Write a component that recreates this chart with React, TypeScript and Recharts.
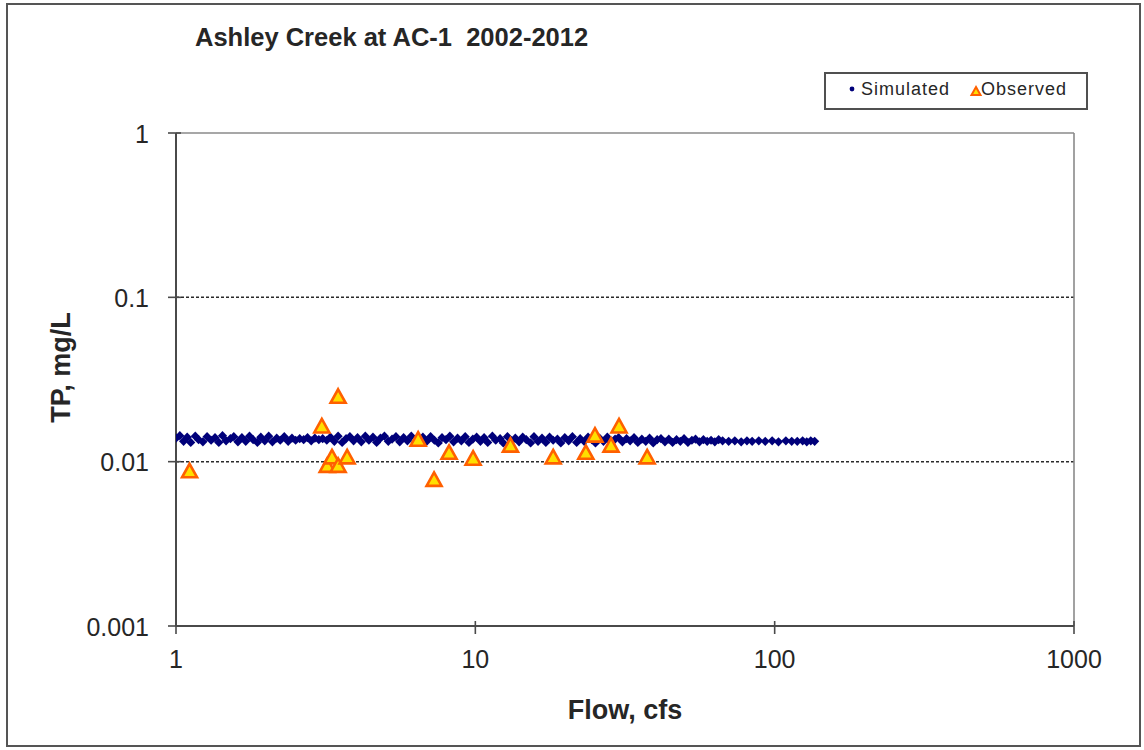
import React from 'react';
import { ScatterChart, Scatter, XAxis, YAxis, ReferenceLine, Legend, Label } from 'recharts';

const FONT = '"Liberation Sans", Arial, Helvetica, sans-serif';
const TEXT = '#262626';
const AXIS = '#4a4a4a';
const NAVY = '#00007a';
const TRI_FILL = '#ffdf00';
const TRI_STROKE = '#ff6000';

const TITLE = 'Ashley Creek at AC-1  2002-2012';
const X_TITLE = 'Flow, cfs';
const Y_TITLE = 'TP, mg/L';
const SIM_NAME = 'Simulated';
const OBS_NAME = 'Observed';
const legendOrder = [SIM_NAME, OBS_NAME];

const flowTicks = [1, 10, 100, 1000];
const flowTickLabels = ['1', '10', '100', '1000'];
const tpTicks = [0.001, 0.01, 0.1, 1];
const tpTickLabels = ['0.001', '0.01', '0.1', '1'];
const tpGridLines = [0.01, 0.1];

// Simulated daily flow (cfs) and total phosphorus (mg/L)
const simulatedFlow = [
  1.0, 1.03, 1.06, 1.09, 1.12, 1.16, 1.19, 1.23, 1.27, 1.31,
  1.35, 1.39, 1.43, 1.47, 1.52, 1.56, 1.61, 1.66, 1.71, 1.76,
  1.81, 1.87, 1.92, 1.98, 2.04, 2.1, 2.17, 2.23, 2.3, 2.37,
  2.44, 2.51, 2.59, 2.67, 2.75, 2.83, 2.91, 3.0, 3.09, 3.19,
  3.28, 3.38, 3.48, 3.59, 3.7, 3.81, 3.92, 4.04, 4.16, 4.29,
  4.41, 4.55, 4.68, 4.82, 4.97, 5.12, 5.27, 5.43, 5.59, 5.76,
  5.93, 6.11, 6.3, 6.48, 6.68, 6.88, 7.09, 7.3, 7.52, 7.74,
  7.98, 8.22, 8.46, 8.72, 8.98, 9.25, 9.52, 9.81, 10.1, 10.4,
  10.7, 11.0, 11.4, 11.7, 12.1, 12.4, 12.8, 13.2, 13.6, 14.0,
  14.4, 14.8, 15.3, 15.7, 16.2, 16.7, 17.2, 17.7, 18.2, 18.8,
  19.3, 19.9, 20.5, 21.1, 21.8, 22.4, 23.1, 23.8, 24.5, 25.2,
  26.0, 26.8, 27.6, 28.4, 29.3, 30.1, 31.0, 32.0, 32.9, 33.9,
  34.9, 36.0, 37.1, 38.2, 39.3, 40.5, 41.7, 43.0, 44.3, 45.6,
  47.0, 48.4, 49.8, 51.3, 52.9, 54.4, 56.1, 57.8, 59.5, 61.3,
  63.1, 65.0, 67.0, 70.2, 73.6, 77.3, 80.8, 84.1, 88.5, 93.0,
  98.1, 103, 109, 114, 119, 124, 128, 132, 136,
];

const simulatedTp = [
  0.0139, 0.0144, 0.0133, 0.0141, 0.0131, 0.0143, 0.0136, 0.0132, 0.0142, 0.0135,
  0.014, 0.0131, 0.0144, 0.0134, 0.0138, 0.0142, 0.0132, 0.014, 0.0133, 0.0143,
  0.0136, 0.0131, 0.0141, 0.0134, 0.0143, 0.0132, 0.0139, 0.0135, 0.0142, 0.0133,
  0.0139, 0.0135, 0.0138, 0.0136, 0.014, 0.0134, 0.0139, 0.0136, 0.0138, 0.0135,
  0.0141, 0.0133, 0.0143, 0.0131, 0.0138, 0.0142, 0.0134, 0.014, 0.0132, 0.0143,
  0.0135, 0.0141, 0.0131, 0.0139, 0.0143, 0.0133, 0.0137, 0.0142, 0.0132, 0.014,
  0.0134, 0.0143, 0.0131, 0.0138, 0.0141, 0.0133, 0.0142, 0.0135, 0.013, 0.014,
  0.0136, 0.0143, 0.0132, 0.0139, 0.0134, 0.0142, 0.0131, 0.0137, 0.0141, 0.0133,
  0.014, 0.0131, 0.0143, 0.0135, 0.0138, 0.013, 0.0142, 0.0134, 0.0139, 0.0132,
  0.0141, 0.0136, 0.013, 0.0142, 0.0133, 0.0139, 0.0131, 0.0141, 0.0135, 0.0137,
  0.013, 0.014, 0.0134, 0.0142, 0.0131, 0.0138, 0.0133, 0.0141, 0.0136, 0.013,
  0.0139, 0.0133, 0.0141, 0.0131, 0.0137, 0.014, 0.0132, 0.0138, 0.0134, 0.014,
  0.0131, 0.0137, 0.0133, 0.0139, 0.013, 0.0136, 0.0138, 0.0132, 0.0137, 0.0131,
  0.0136, 0.0133, 0.0138, 0.0131, 0.0135, 0.0137, 0.0132, 0.0136, 0.0133, 0.0135,
  0.0132, 0.0136, 0.0134, 0.0133, 0.0134, 0.0132, 0.0134, 0.0133, 0.0134, 0.0133,
  0.0134, 0.0132, 0.0134, 0.0133, 0.0133, 0.0134, 0.0132, 0.0134, 0.0133,
];

// Observed grab samples
const observedFlow = [1.11, 3.07, 3.2, 3.32, 3.48, 3.48, 3.73, 6.44, 7.28, 8.17, 9.83, 13.1, 18.2, 23.4, 25.1, 28.4, 30.2, 37.5];
const observedTp = [0.0088, 0.0165, 0.0095, 0.0107, 0.025, 0.0095, 0.0107, 0.0137, 0.0078, 0.0114, 0.0105, 0.0126, 0.0107, 0.0114, 0.0145, 0.0126, 0.0165, 0.0107];

const simulated = simulatedFlow.map((flow, i) => ({ flow, tp: simulatedTp[i] }));
const observed = observedFlow.map((flow, i) => ({ flow, tp: observedTp[i] }));

const TICK_SIZE = 8;
const INNER_TICK = 5;
const X_TICK_MARGIN = 16;
const Y_TICK_MARGIN = 19;

function FlowTick(props: any) {
  const { x, y, payload } = props;
  const axisY = y - TICK_SIZE - X_TICK_MARGIN;
  const label = flowTickLabels[flowTicks.indexOf(payload.value)];
  return (
    <g>
      <line x1={x} x2={x} y1={axisY - INNER_TICK} y2={axisY} stroke={AXIS} strokeWidth={1.6} />
      <text x={x} y={y} dy="0.71em" textAnchor="middle" fill={TEXT} fontSize={25} fontFamily={FONT}>
        {label}
      </text>
    </g>
  );
}

function TpTick(props: any) {
  const { x, y, payload } = props;
  const axisX = x + TICK_SIZE + Y_TICK_MARGIN;
  const label = tpTickLabels[tpTicks.indexOf(payload.value)];
  return (
    <g>
      <line x1={axisX} x2={axisX + INNER_TICK} y1={y} y2={y} stroke={AXIS} strokeWidth={1.6} />
      <text x={x} y={y} dy="0.38em" textAnchor="end" fill={TEXT} fontSize={25} fontFamily={FONT}>
        {label}
      </text>
    </g>
  );
}

function Diamond(props: any) {
  const { cx, cy } = props;
  const r = 4.6;
  return <polygon points={`${cx},${cy - r} ${cx + r},${cy} ${cx},${cy + r} ${cx - r},${cy}`} fill={NAVY} />;
}

function Triangle(props: any) {
  const { cx, cy } = props;
  const hw = 7.5;
  return (
    <polygon
      points={`${cx},${cy - 7} ${cx + hw},${cy + 6.5} ${cx - hw},${cy + 6.5}`}
      fill={TRI_FILL}
      stroke={TRI_STROKE}
      strokeWidth={2.6}
      strokeLinejoin="miter"
    />
  );
}

function XTitle(props: any) {
  const vb = props.viewBox;
  return (
    <text x={vb.x + vb.width / 2} y={vb.y + 93} textAnchor="middle" fill={TEXT} fontSize={27} fontWeight="bold" fontFamily={FONT}>
      {X_TITLE}
    </text>
  );
}

function YTitle(props: any) {
  const vb = props.viewBox;
  const cx = vb.x - 46;
  const cy = vb.y + vb.height / 2 - 12;
  return (
    <text x={cx} y={cy} transform={`rotate(-90 ${cx} ${cy})`} textAnchor="middle" fill={TEXT} fontSize={27} fontWeight="bold" fontFamily={FONT}>
      {Y_TITLE}
    </text>
  );
}

function LegendBox(props: any) {
  const items = [...(props.payload || [])].sort(
    (a: any, b: any) => legendOrder.indexOf(a.value) - legendOrder.indexOf(b.value)
  );
  const slots = [26, 150];
  return (
    <div
      style={{
        width: 264,
        height: 38,
        boxSizing: 'border-box',
        border: '2px solid #505050',
        background: '#fff',
      }}
    >
      <svg width={260} height={34} style={{ display: 'block' }}>
        {items.map((item: any, i: number) => {
          const mx = slots[i];
          const isObs = item.value === OBS_NAME;
          return (
            <g key={item.value}>
              {isObs ? (
                <polygon
                  points={`${mx},${13} ${mx + 4.5},${21} ${mx - 4.5},${21}`}
                  fill={TRI_FILL}
                  stroke={TRI_STROKE}
                  strokeWidth={2}
                />
              ) : (
                <circle cx={mx} cy={15} r={2.4} fill={NAVY} />
              )}
              <text x={mx + (isObs ? 5 : 9)} y={21} fill={TEXT} fontSize={18} letterSpacing={1} fontFamily={FONT}>
                {item.value}
              </text>
            </g>
          );
        })}
      </svg>
    </div>
  );
}

export default function App() {
  return (
    <div style={{ position: 'absolute', left: 0, top: 0, width: 1144, height: 750, background: '#fff', fontFamily: FONT }}>
      <div
        style={{
          position: 'absolute',
          left: 6,
          top: 3,
          width: 1135,
          height: 744,
          boxSizing: 'border-box',
          border: '2px solid #555',
        }}
      />
      <div
        style={{
          position: 'absolute',
          left: 195,
          top: 25,
          fontSize: 25.5,
          lineHeight: 1,
          fontWeight: 'bold',
          color: TEXT,
          whiteSpace: 'pre',
        }}
      >
        {TITLE}
      </div>
      <div style={{ position: 'absolute', left: 0, top: 0 }}>
        <ScatterChart width={1144} height={750} margin={{ top: 133, right: 70, bottom: 64, left: 116 }}>
          <XAxis
            dataKey="flow"
            type="number"
            scale="log"
            domain={[1, 1000]}
            ticks={flowTicks}
            allowDataOverflow
            height={60}
            axisLine={{ stroke: AXIS, strokeWidth: 2 }}
            tickLine={{ stroke: AXIS, strokeWidth: 1.6 }}
            tickSize={TICK_SIZE}
            tickMargin={X_TICK_MARGIN}
            tick={<FlowTick />}
          >
            <Label content={<XTitle />} />
          </XAxis>
          <YAxis
            dataKey="tp"
            type="number"
            scale="log"
            domain={[0.001, 1]}
            ticks={tpTicks}
            allowDataOverflow
            width={60}
            axisLine={{ stroke: AXIS, strokeWidth: 2 }}
            tickLine={{ stroke: AXIS, strokeWidth: 1.6 }}
            tickSize={TICK_SIZE}
            tickMargin={Y_TICK_MARGIN}
            tick={<TpTick />}
          >
            <Label content={<YTitle />} />
          </YAxis>
          {tpGridLines.map((v) => (
            <ReferenceLine key={v} y={v} stroke="#2a2a2a" strokeWidth={1.5} strokeDasharray="3 2" />
          ))}
          <ReferenceLine y={1} stroke="#8a8a8a" strokeWidth={1.6} />
          <ReferenceLine x={1000} stroke="#8a8a8a" strokeWidth={1.6} />
          <Scatter name={SIM_NAME} data={simulated} shape={<Diamond />} isAnimationActive={false} />
          <Scatter name={OBS_NAME} data={observed} shape={<Triangle />} isAnimationActive={false} />
          <Legend
            layout="horizontal"
            align="center"
            verticalAlign="middle"
            wrapperStyle={{ left: 824, top: 72, width: 264, height: 38 }}
            content={<LegendBox />}
          />
        </ScatterChart>
      </div>
    </div>
  );
}
